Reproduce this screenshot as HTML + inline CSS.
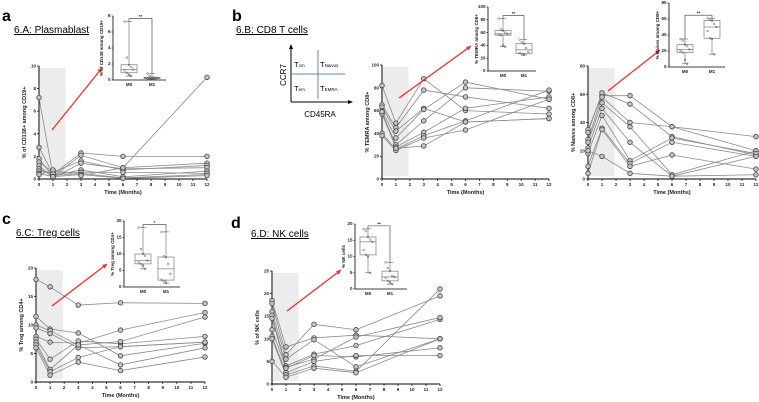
<!DOCTYPE html>
<html><head><meta charset="utf-8">
<style>
body{margin:0;background:#fff;}
svg{display:block;font-family:"Liberation Sans",sans-serif;}
.pl{font-weight:bold;font-size:16px;}
.ti{font-size:10px;text-decoration:underline;}
.tk{font-size:4.5px;fill:#222;font-weight:bold;}
.al{font-size:5.5px;font-weight:bold;fill:#222;}
</style></head>
<body>
<svg id="fig" width="759" height="402" viewBox="0 0 759 402">
<text class="pl" x="2" y="21">a</text>
<text class="ti" x="14" y="33">6.A: Plasmablast</text>
<text class="pl" x="232" y="21">b</text>
<text class="ti" x="236" y="33">6.B: CD8 T cells</text>
<text class="pl" x="2" y="224">c</text>
<text class="ti" x="16" y="236">6.C: Treg cells</text>
<text class="pl" x="231" y="228">d</text>
<text class="ti" x="251" y="237">6.D: NK cells</text>
<g>
<line x1="291" y1="102" x2="291" y2="47" stroke="#000" stroke-width="1"/>
<polygon points="291,44 289,49 293,49" fill="#000"/>
<line x1="291" y1="102" x2="350" y2="102" stroke="#000" stroke-width="1"/>
<polygon points="353,102 348,100 348,104" fill="#000"/>
<line x1="318" y1="50" x2="318" y2="99" stroke="#5b84c4" stroke-width="1"/>
<line x1="291" y1="74" x2="345" y2="74" stroke="#5b84c4" stroke-width="1"/>
<text x="294" y="67" font-size="7.5">T<tspan font-size="4.5">cm</tspan></text>
<text x="320" y="67" font-size="7.5">T<tspan font-size="4.5">Naivos</tspan></text>
<text x="294" y="91" font-size="7.5">T<tspan font-size="4.5">em</tspan></text>
<text x="320" y="91" font-size="7.5">T<tspan font-size="4.5">EMRA</tspan></text>
<text x="286" y="75" font-size="8" text-anchor="middle" transform="rotate(-90 286 75)">CCR7</text>
<text x="320" y="117" font-size="8" text-anchor="middle">CD45RA</text>
</g>
</svg>
<script>
const months=[0,1,3,6,12];
const seriesA=[[7.2,0.3,0.5,0.1,0.4],[2.8,0.4,2.3,2.0,2.0],[1.8,0.2,2.1,1.0,1.4],[1.5,0.6,1.6,0.8,1.2],[1.2,0.1,1.4,0.9,1.0],[0.9,0.3,0.8,0.2,0.7],[0.7,0.5,0.6,0.6,0.5],[0.5,0.2,0.4,0.05,0.3],[0.4,0.8,0.3,1.0,9.0]];
const seriesB=[[82,49,88,60,57],[65,45,78,72,62],[63,42,62,50,53],[60,36,61,85,70],[58,30,51,80,77],[57,28,41,62,72],[40,26,38,51,78],[38,25,36,43,70],[59,27,29,50,53]];
const seriesN=[[35,59,59,37,30],[33,61,53,30,17],[28,58,40,37,20],[26,54,37,3,20],[22,50,26,2,16],[18,45,13,29,18],[9,36,11,26,16],[4,35,9,17,7],[20,16,4,2,3]];
const seriesC=[[18,16.7,13.5,13.9,13.8],[11.5,9.3,8.6,4.6,6.8],[10,9,6.5,3,6],[9.5,8.5,6,6.2,7],[8,7,6.8,9.1,12.2],[7.5,4,7.2,6.7,8],[7,2.2,6.5,7.1,11.4],[6.5,1.8,4.3,6.2,7],[6,1.2,3.5,2,4.4]];
const seriesD=[[18.5,8.2,10.2,10.8,10],[17.8,6.5,13.2,12,19.5],[16,5.5,9.8,3.8,10],[15.2,4,6.6,8.5,14.3],[14.5,3.7,5.5,10.4,14.7],[12,3.5,6.3,6,8],[10.5,2.5,5,6.3,6.3],[10,2,4,2.8,21],[5,1.5,3.5,2.5,10]];
const boxA_M0=[7.3,2.8,1.9,1.6,1.3,1.2,0.9,0.6,0.5], boxA_M1=[0.8,0.5,0.3,0.3,0.2,0.2,0.1,0.1];
const boxB_M0=[82,65,63,60,58,57,56,40,38], boxB_M1=[49,45,42,36,30,28,26,25];
const boxN_M0=[35,33,28,26,22,20,18,9,4], boxN_M1=[61,59,58,54,50,45,36,35,16];
const boxC_M0=[18,11.5,10,9.5,8,7.5,7,6.5,5.5], boxC_M1=[16.7,9.3,9,7,4,2.2,1.8,1.2];
const boxD_M0=[18.5,17.8,16,15.2,14.5,12,10.5,10,5], boxD_M1=[8.2,6.5,5.5,4,3.7,3.5,2.5,2,1.5];
const groupLabels=["M0","M1"];
const xTicks=[0,1,2,3,4,5,6,7,8,9,10,11,12];

const NS="http://www.w3.org/2000/svg";
const svg=document.getElementById('fig');
function mk(tag,attrs,parent,txt){const e=document.createElementNS(NS,tag);for(const k in attrs)e.setAttribute(k,attrs[k]);if(txt!==undefined)e.textContent=txt;(parent||svg).appendChild(e);return e;}

function linePanel(name,series,cfg){
  const g=mk('g',{});
  
  
  const sx=v=>cfg.x0+(cfg.x1-cfg.x0)*v/12;
  const sy=v=>cfg.y0-(cfg.y0-cfg.y1)*v/cfg.ymax;
  const band=mk('rect',{x:sx(0)+1,y:sy(cfg.ymax)+2,width:sx(1.9)-sx(0)-1,height:cfg.y0-sy(cfg.ymax)-5,fill:'#ececec'},g);
  
  
  mk('line',{x1:cfg.x0,y1:cfg.y0,x2:cfg.x0,y2:sy(cfg.ymax),stroke:'#000','stroke-width':1},g);
  mk('line',{x1:cfg.x0,y1:cfg.y0,x2:sx(12),y2:cfg.y0,stroke:'#000','stroke-width':1},g);
  for(let v=0;v<=cfg.ymax;v+=cfg.ystep){
    mk('line',{x1:cfg.x0-2,y1:sy(v),x2:cfg.x0,y2:sy(v),stroke:'#000','stroke-width':0.7},g);
    mk('text',{class:'tk',x:cfg.x0-3,y:sy(v)+1.5,'text-anchor':'end'},g,v);
  }
  xTicks.forEach(t=>{
    mk('line',{x1:sx(t),y1:cfg.y0,x2:sx(t),y2:cfg.y0+2,stroke:'#000','stroke-width':0.7},g);
    mk('text',{class:'tk',x:sx(t),y:cfg.y0+7,'text-anchor':'middle'},g,t);
  });
  mk('text',{class:'al',x:(cfg.x0+sx(12))/2,y:cfg.y0+15,'text-anchor':'middle'},g,'Time (Months)');
  const ly=(cfg.y0+sy(cfg.ymax))/2, lx=cfg.x0-13;
  mk('text',{class:'al',x:lx,y:ly,'text-anchor':'middle',transform:`rotate(-90 ${lx} ${ly})`},g,cfg.ylabel);
  series.forEach((s,i)=>{
    const pl=mk('polyline',{points:s.map((v,j)=>sx(months[j])+','+sy(v)).join(' '),fill:'none',stroke:'#8a8a8a','stroke-width':0.8},g);
    
    
  });
  series.forEach((s,i)=>s.forEach((v,j)=>{
    const c=mk('circle',{cx:sx(months[j]),cy:sy(v),r:2.3,fill:'#c4c4c4',stroke:'#444','stroke-width':0.8},g);
    
    
  }));
  const ar=cfg.arrow;
  mk('line',{x1:ar[0],y1:ar[1],x2:ar[2],y2:ar[3],stroke:'#f22','stroke-width':1.2},g);
  const ang=Math.atan2(ar[3]-ar[1],ar[2]-ar[0]);
  const p=(d,a)=>[ar[2]-d*Math.cos(ang+a),ar[3]-d*Math.sin(ang+a)];
  const a1=p(5,0.45),a2=p(5,-0.45);
  mk('polygon',{points:`${ar[2]},${ar[3]} ${a1} ${a2}`,fill:'#f22'},g);
}
function quant(arr,q){const s=[...arr].sort((a,b)=>a-b);const pos=(s.length-1)*q;const lo=Math.floor(pos);return s[lo]+(s[Math.ceil(pos)]-s[lo])*(pos-lo);}
function boxInset(name,groups,cfg){
  const g=mk('g',{});
  
  
  const sy=v=>cfg.y0-(cfg.y0-cfg.y1)*v/cfg.ymax;
  mk('line',{x1:cfg.x,y1:cfg.y0,x2:cfg.x,y2:cfg.y1,stroke:'#000','stroke-width':0.8},g);
  mk('line',{x1:cfg.x,y1:cfg.y0,x2:cfg.xe,y2:cfg.y0,stroke:'#000','stroke-width':0.8},g);
  for(let v=0;v<=cfg.ymax;v+=cfg.ystep){
    mk('line',{x1:cfg.x-1.5,y1:sy(v),x2:cfg.x,y2:sy(v),stroke:'#000','stroke-width':0.6},g);
    mk('text',{class:'tk',x:cfg.x-2.5,y:sy(v)+1.2,'text-anchor':'end','font-size':'3.5'},g,v);
  }
  const ly=(cfg.y0+cfg.y1)/2,lx=cfg.x-10;
  mk('text',{class:'tk',x:lx,y:ly,'text-anchor':'middle','font-size':'4',transform:`rotate(-90 ${lx} ${ly})`},g,cfg.ylabel);
  const tops=[];
  groups.forEach((d,i)=>{
    const cx=cfg.gx[i],w=8;
    const mn=Math.min(...d),mx=Math.max(...d),q1=quant(d,.25),md=quant(d,.5),q3=quant(d,.75);
    tops.push(sy(mx));
    mk('line',{x1:cx,y1:sy(mn),x2:cx,y2:sy(mx),stroke:'#666','stroke-width':0.6},g);
    mk('line',{x1:cx-3,y1:sy(mn),x2:cx+3,y2:sy(mn),stroke:'#666','stroke-width':0.6},g);
    mk('line',{x1:cx-3,y1:sy(mx),x2:cx+3,y2:sy(mx),stroke:'#666','stroke-width':0.6},g);
    const b=mk('rect',{x:cx-w,y:sy(q3),width:2*w,height:sy(q1)-sy(q3),fill:'#fff',stroke:'#666','stroke-width':0.6},g);
    
    
    mk('line',{x1:cx-w,y1:sy(md),x2:cx+w,y2:sy(md),stroke:'#666','stroke-width':0.6},g);
    d.forEach((v,k)=>mk('circle',{cx:cx+((k%5)-2)*2.2,cy:sy(v),r:0.9,fill:'none',stroke:'#555','stroke-width':0.5},g));
    mk('text',{class:'tk',x:cx,y:cfg.y0+6,'text-anchor':'middle'},g,groupLabels[i]);
  });
  const top=Math.min(...tops)-3;
  mk('polyline',{points:`${cfg.gx[0]},${tops[0]} ${cfg.gx[0]},${top} ${cfg.gx[1]},${top} ${cfg.gx[1]},${tops[1]}`,fill:'none',stroke:'#333','stroke-width':0.6},g);
  mk('text',{class:'tk',x:(cfg.gx[0]+cfg.gx[1])/2,y:top-0.5,'text-anchor':'middle'},g,cfg.sig);
}
linePanel('plasmablast-chart',seriesA,{x0:39,x1:207,y0:179,y1:66,ymax:10,ystep:2,ylabel:'% of CD138+ among CD19+',arrow:[52,130,102,68]});
linePanel('cd8-temra-chart',seriesB,{x0:382,x1:549,y0:179,y1:65,ymax:100,ystep:20,ylabel:'% TEMRA among CD8+',arrow:[399,98,471,46]});
linePanel('cd8-naives-chart',seriesN,{x0:588,x1:756,y0:179,y1:66,ymax:80,ystep:20,ylabel:'% Naives among CD8+',arrow:[608,91,660,50]});
linePanel('treg-chart',seriesC,{x0:36,x1:205,y0:382,y1:268,ymax:20,ystep:5,ylabel:'% Treg among CD4+',arrow:[52,306,107,264]});
linePanel('nk-chart',seriesD,{x0:272,x1:440,y0:384,y1:271,ymax:25,ystep:5,ylabel:'% of NK cells',arrow:[287,311,341,270]});
boxInset('plasmablast-inset',[boxA_M0,boxA_M1],{x:113,xe:166,y0:80,y1:16,ymax:8,ystep:2,gx:[129,152],ylabel:'% of CD138 among CD19+',sig:'**'});
boxInset('temra-inset',[boxB_M0,boxB_M1],{x:488,xe:536,y0:71,y1:7,ymax:100,ystep:20,gx:[503,524],ylabel:'% TEMRA among CD8+',sig:'**'});
boxInset('naives-inset',[boxN_M0,boxN_M1],{x:669,xe:725,y0:67,y1:3,ymax:80,ystep:20,gx:[685,712],ylabel:'% Naives among CD8+',sig:'**'});
boxInset('treg-inset',[boxC_M0,boxC_M1],{x:124,xe:180,y0:287,y1:221,ymax:20,ystep:5,gx:[143,166],ylabel:'% Treg among CD4+',sig:'*'});
boxInset('nk-inset',[boxD_M0,boxD_M1],{x:355,xe:407,y0:289,y1:224,ymax:20,ystep:5,gx:[368,390],ylabel:'% NK cells',sig:'**'});
</script>
</body></html>
